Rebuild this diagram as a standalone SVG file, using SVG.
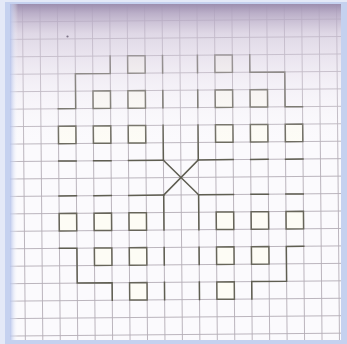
<svg xmlns="http://www.w3.org/2000/svg" width="347" height="344" viewBox="0 0 347 344">
<style>
.grid{fill:none;stroke:#b3adb6;stroke-width:0.9;vector-effect:non-scaling-stroke}
.ink{fill:none;stroke:#5f5e52;stroke-width:1.5;vector-effect:non-scaling-stroke;stroke-linecap:square}
.sq{fill:#fdfcf5;stroke:#67655a;stroke-width:1.5;vector-effect:non-scaling-stroke}
</style>
<defs>
<linearGradient id="topShade" x1="0" y1="0" x2="0" y2="1">
<stop offset="0" stop-color="#9c8eae" stop-opacity="1"/>
<stop offset="0.06" stop-color="#b3a6c2" stop-opacity="0.9"/>
<stop offset="0.2" stop-color="#cdc2d7" stop-opacity="0.6"/>
<stop offset="0.55" stop-color="#e4dcea" stop-opacity="0.3"/>
<stop offset="1" stop-color="#ffffff" stop-opacity="0"/>
</linearGradient>
<linearGradient id="leftShade" x1="0" y1="0" x2="1" y2="0">
<stop offset="0" stop-color="#b3c1ea" stop-opacity="0.9"/>
<stop offset="1" stop-color="#ffffff" stop-opacity="0"/>
</linearGradient>
<clipPath id="paperClip"><rect x="10" y="4" width="331" height="336"/></clipPath>
</defs>
<rect x="0" y="0" width="347" height="344" fill="#e4e9f7"/>
<rect x="5" y="2" width="342" height="342" fill="#c5d1ef"/>
<rect x="10" y="4" width="331" height="336" fill="#fbfafd"/>
<g clip-path="url(#paperClip)">
<g transform="translate(181 177.5) rotate(-0.5) scale(17.45)">
<path id="gridlines" class="grid" d="M-10 -11V10M-9 -11V10M-8 -11V10M-7 -11V10M-6 -11V10M-5 -11V10M-4 -11V10M-3 -11V10M-2 -11V10M-1 -11V10M0 -11V10M1 -11V10M2 -11V10M3 -11V10M4 -11V10M5 -11V10M6 -11V10M7 -11V10M8 -11V10M9 -11V10M-11 -10H10M-11 -9H10M-11 -8H10M-11 -7H10M-11 -6H10M-11 -5H10M-11 -4H10M-11 -3H10M-11 -2H10M-11 -1H10M-11 0H10M-11 1H10M-11 2H10M-11 3H10M-11 4H10M-11 5H10M-11 6H10M-11 7H10M-11 8H10M-11 9H10"/>
<g id="squares">
<rect class="sq" x="-3" y="-7" width="1" height="1"/>
<rect class="sq" x="2" y="-7" width="1" height="1"/>
<rect class="sq" x="-5" y="-5" width="1" height="1"/>
<rect class="sq" x="-3" y="-5" width="1" height="1"/>
<rect class="sq" x="2" y="-5" width="1" height="1"/>
<rect class="sq" x="4" y="-5" width="1" height="1"/>
<rect class="sq" x="-7" y="-3" width="1" height="1"/>
<rect class="sq" x="-5" y="-3" width="1" height="1"/>
<rect class="sq" x="-3" y="-3" width="1" height="1"/>
<rect class="sq" x="2" y="-3" width="1" height="1"/>
<rect class="sq" x="4" y="-3" width="1" height="1"/>
<rect class="sq" x="6" y="-3" width="1" height="1"/>
<rect class="sq" x="-7" y="2" width="1" height="1"/>
<rect class="sq" x="-5" y="2" width="1" height="1"/>
<rect class="sq" x="-3" y="2" width="1" height="1"/>
<rect class="sq" x="2" y="2" width="1" height="1"/>
<rect class="sq" x="4" y="2" width="1" height="1"/>
<rect class="sq" x="6" y="2" width="1" height="1"/>
<rect class="sq" x="-5" y="4" width="1" height="1"/>
<rect class="sq" x="-3" y="4" width="1" height="1"/>
<rect class="sq" x="2" y="4" width="1" height="1"/>
<rect class="sq" x="4" y="4" width="1" height="1"/>
<rect class="sq" x="-3" y="6" width="1" height="1"/>
<rect class="sq" x="2" y="6" width="1" height="1"/>
</g>
<g id="lines">
<path class="ink" d="M-1 -7V-6M1 -7V-6M-1 -5V-4M1 -5V-4M-1 -3V-1M1 -3V-1M-1 1V3M1 1V3M-1 4V5M1 4V5M-1 6V7M1 6V7"/>
<path class="ink" d="M-7 -1H-6M-5 -1H-4M-3 -1H-1M1 -1H3M4 -1H5M6 -1H7M-7 1H-6M-5 1H-4M-3 1H-1M1 1H3M4 1H5M6 1H7"/>
<path class="ink" d="M-1 -1L1 1M1 -1L-1 1"/>
<path class="ink" d="M-4 -7V-6H-6V-4H-7M4 -7V-6H6V-4H7M-7 4H-6V6H-4V7M7 4H6V6H4V7"/>
</g>
</g>
<rect x="10" y="4" width="331" height="150" fill="url(#topShade)"/>
<rect x="10" y="4" width="8" height="336" fill="url(#leftShade)"/>
<circle cx="67.5" cy="36.5" r="1.1" fill="#7d7388"/>
</g>
</svg>
